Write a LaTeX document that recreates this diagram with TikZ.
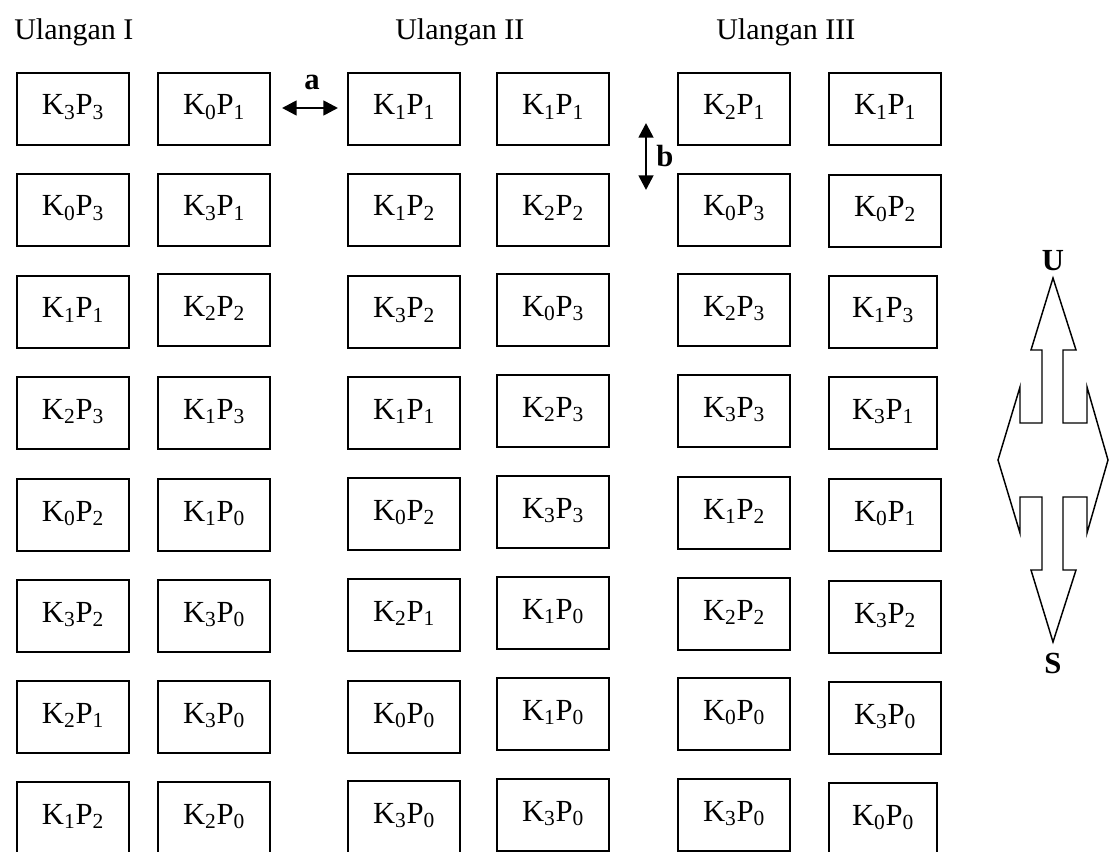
\documentclass[tikz,border=0pt]{standalone}
\usepackage{fontspec}
\setmainfont{Liberation Serif}
\usetikzlibrary{arrows.meta}
\newcommand\kp[2]{K\textsubscript{#1}P\textsubscript{#2}}
\begin{document}
\begin{tikzpicture}[x=0.75pt,y=-0.75pt,
  cell/.style={draw, line width=1.1pt, anchor=north west, minimum width=84pt, minimum height=54pt,
    inner sep=0pt, outer sep=0pt, text height=15pt, text depth=6pt, font=\fontsize{23}{27}\selectfont},
  narrow/.style={minimum width=81pt},
  hdr/.style={anchor=base west, inner sep=0pt, font=\fontsize{22.5}{27}\selectfont},
  lbl/.style={inner sep=0pt, font=\fontsize{23}{27}\selectfont\bfseries},
  arr/.style={{Triangle[length=11pt,width=11pt]}-{Triangle[length=11pt,width=11pt]}, line width=2pt},
  compass/.style={draw, line width=1.1pt, line join=miter}]
\useasboundingbox (0,0) rectangle (1110,852);
\clip (0,0) rectangle (1110,852);

% headers
\node[hdr] (h1) at (14,40) {Ulangan I};
\node[hdr] (h2) at (395,40) {Ulangan II};
\node[hdr] (h3) at (716,40) {Ulangan III};

% column 1
\node[cell] (c1r1) at (17,73)  {\kp{3}{3}};
\node[cell] (c1r2) at (17,174) {\kp{0}{3}};
\node[cell] (c1r3) at (17,276) {\kp{1}{1}};
\node[cell] (c1r4) at (17,377) {\kp{2}{3}};
\node[cell] (c1r5) at (17,479) {\kp{0}{2}};
\node[cell] (c1r6) at (17,580) {\kp{3}{2}};
\node[cell] (c1r7) at (17,681) {\kp{2}{1}};
\node[cell] (c1r8) at (17,782) {\kp{1}{2}};
% column 2
\node[cell] (c2r1) at (158,73)  {\kp{0}{1}};
\node[cell] (c2r2) at (158,174) {\kp{3}{1}};
\node[cell] (c2r3) at (158,274) {\kp{2}{2}};
\node[cell] (c2r4) at (158,377) {\kp{1}{3}};
\node[cell] (c2r5) at (158,479) {\kp{1}{0}};
\node[cell] (c2r6) at (158,580) {\kp{3}{0}};
\node[cell] (c2r7) at (158,681) {\kp{3}{0}};
\node[cell] (c2r8) at (158,782) {\kp{2}{0}};
% column 3
\node[cell] (c3r1) at (348,73)  {\kp{1}{1}};
\node[cell] (c3r2) at (348,174) {\kp{1}{2}};
\node[cell] (c3r3) at (348,276) {\kp{3}{2}};
\node[cell] (c3r4) at (348,377) {\kp{1}{1}};
\node[cell] (c3r5) at (348,478) {\kp{0}{2}};
\node[cell] (c3r6) at (348,579) {\kp{2}{1}};
\node[cell] (c3r7) at (348,681) {\kp{0}{0}};
\node[cell] (c3r8) at (348,781) {\kp{3}{0}};
% column 4
\node[cell] (c4r1) at (497,73)  {\kp{1}{1}};
\node[cell] (c4r2) at (497,174) {\kp{2}{2}};
\node[cell] (c4r3) at (497,274) {\kp{0}{3}};
\node[cell] (c4r4) at (497,375) {\kp{2}{3}};
\node[cell] (c4r5) at (497,476) {\kp{3}{3}};
\node[cell] (c4r6) at (497,577) {\kp{1}{0}};
\node[cell] (c4r7) at (497,678) {\kp{1}{0}};
\node[cell] (c4r8) at (497,779) {\kp{3}{0}};
% column 5
\node[cell] (c5r1) at (678,73)  {\kp{2}{1}};
\node[cell] (c5r2) at (678,174) {\kp{0}{3}};
\node[cell] (c5r3) at (678,274) {\kp{2}{3}};
\node[cell] (c5r4) at (678,375) {\kp{3}{3}};
\node[cell] (c5r5) at (678,477) {\kp{1}{2}};
\node[cell] (c5r6) at (678,578) {\kp{2}{2}};
\node[cell] (c5r7) at (678,678) {\kp{0}{0}};
\node[cell] (c5r8) at (678,779) {\kp{3}{0}};
% column 6
\node[cell] (c6r1) at (829,73)  {\kp{1}{1}};
\node[cell] (c6r2) at (829,175) {\kp{0}{2}};
\node[cell, narrow] (c6r3) at (829,276) {\kp{1}{3}};
\node[cell, narrow] (c6r4) at (829,377) {\kp{3}{1}};
\node[cell] (c6r5) at (829,479) {\kp{0}{1}};
\node[cell] (c6r6) at (829,581) {\kp{3}{2}};
\node[cell] (c6r7) at (829,682) {\kp{3}{0}};
\node[cell, narrow] (c6r8) at (829,783) {\kp{0}{0}};

% arrow a
\coordinate (a1) at (282,108);
\coordinate (a2) at (338,108);
\draw[arr] (a1) -- (a2);
\node[lbl] (la) at (312,82) {a};
% arrow b
\coordinate (b1) at (646,123);
\coordinate (b2) at (646,190);
\draw[arr] (b1) -- (b2);
\node[lbl] (lb) at (665,156) {b};

% compass
\draw[compass] (1053,278) -- (1076,350) -- (1063,350) -- (1063,423) -- (1087,423) -- (1087,387)
  -- (1108,460) -- (1087,533) -- (1087,497) -- (1063,497) -- (1063,570) -- (1076,570)
  -- (1053,642) -- (1031,570) -- (1042,570) -- (1042,497) -- (1020,497) -- (1020,533)
  -- (998,460) -- (1020,387) -- (1020,423) -- (1042,423) -- (1042,350) -- (1031,350) -- cycle;
\node[lbl] (U) at (1053,261) {U};
\node[lbl] (S) at (1053,663) {S};
\end{tikzpicture}
\end{document}
